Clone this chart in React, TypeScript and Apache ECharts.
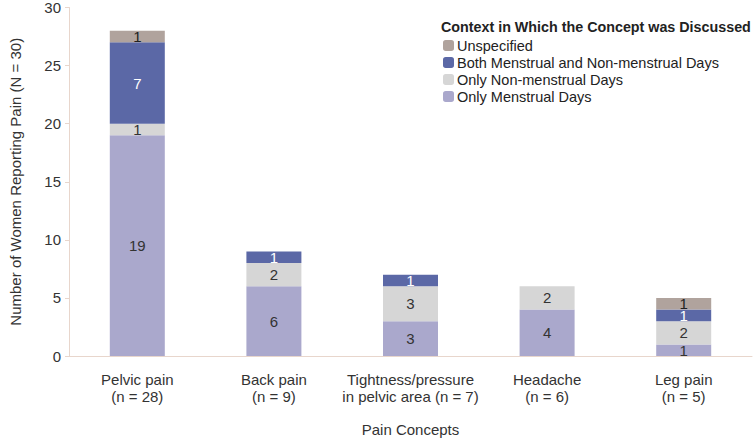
import React, { useEffect, useRef } from "react";
import * as echarts from "echarts";

const categories = [
  "Pelvic pain\n(n = 28)",
  "Back pain\n(n = 9)",
  "Tightness/pressure\nin pelvic area (n = 7)",
  "Headache\n(n = 6)",
  "Leg pain\n(n = 5)",
];
const onlyMenstrual = [19, 6, 3, 4, 1];
const onlyNonMenstrual = [1, 2, 3, 2, 2];
const bothDays = [7, 1, 1, 0, 1];
const unspecified = [1, 0, 0, 0, 1];
const yTicks = [0, 5, 10, 15, 20, 25, 30];

const FONT = "Liberation Sans, Arial, sans-serif";

export default function App() {
  const ref = useRef<HTMLDivElement>(null);
  useEffect(() => {
    if (!ref.current) return;
    const chart = echarts.init(ref.current, null, { renderer: "svg" });
    const label = (color: string) => ({
      show: true,
      position: "inside",
      color,
      fontSize: 15,
      fontFamily: FONT,
      formatter: (p: any) => (p.value ? String(p.value) : ""),
    });
    const mk = (name: string, data: number[], color: string, lc: string) => ({
      name,
      type: "bar",
      stack: "total",
      data,
      barWidth: 55,
      itemStyle: { color },
      label: label(lc),
    });
    chart.setOption({
      animation: false,
      textStyle: { fontFamily: FONT },
      title: {
        text: "Context in Which the Concept was Discussed",
        left: 436,
        top: 15,
        textStyle: { fontSize: 14.3, fontWeight: "bold", color: "#222", fontFamily: FONT },
      },
      legend: {
        orient: "vertical",
        left: 438,
        top: 33,
        itemWidth: 11,
        itemHeight: 11,
        itemGap: 2,
        data: [
          "Unspecified",
          "Both Menstrual and Non-menstrual Days",
          "Only Non-menstrual Days",
          "Only Menstrual Days",
        ],
        textStyle: { fontSize: 14.5, color: "#222", fontFamily: FONT, padding: [0, 0, 0, -2] },
      },
      grid: { left: 60, right: 2, top: 7, bottom: 83 },
      xAxis: {
        type: "category",
        data: categories,
        name: "Pain Concepts",
        nameLocation: "middle",
        nameGap: 66,
        nameTextStyle: { fontSize: 15, color: "#333", fontFamily: FONT },
        axisLine: { lineStyle: { color: "#e8d6cc" } },
        axisTick: { show: false },
        axisLabel: { interval: 0, fontSize: 15, color: "#333", margin: 15, lineHeight: 17, fontFamily: FONT },
      },
      yAxis: {
        type: "value",
        min: yTicks[0],
        max: yTicks[yTicks.length - 1],
        interval: 5,
        name: "Number of Women Reporting Pain (N = 30)",
        nameLocation: "middle",
        nameGap: 46,
        nameTextStyle: { fontSize: 15, color: "#333", fontFamily: FONT },
        axisLine: { show: true, lineStyle: { color: "#e8d6cc" } },
        axisTick: { show: true, length: 4, lineStyle: { color: "#e8d6cc" } },
        splitLine: { show: false },
        axisLabel: { fontSize: 15, color: "#333", margin: 8, fontFamily: FONT },
      },
      series: [
        mk("Only Menstrual Days", onlyMenstrual, "#aaa8cc", "#333"),
        mk("Only Non-menstrual Days", onlyNonMenstrual, "#d6d6d6", "#333"),
        mk("Both Menstrual and Non-menstrual Days", bothDays, "#5b68a6", "#fff"),
        mk("Unspecified", unspecified, "#b0a39d", "#222"),
      ],
    });
    return () => chart.dispose();
  }, []);
  return (
    <div
      ref={ref}
      style={{ position: "absolute", left: 0, top: 0, width: 754, height: 442 }}
    />
  );
}
